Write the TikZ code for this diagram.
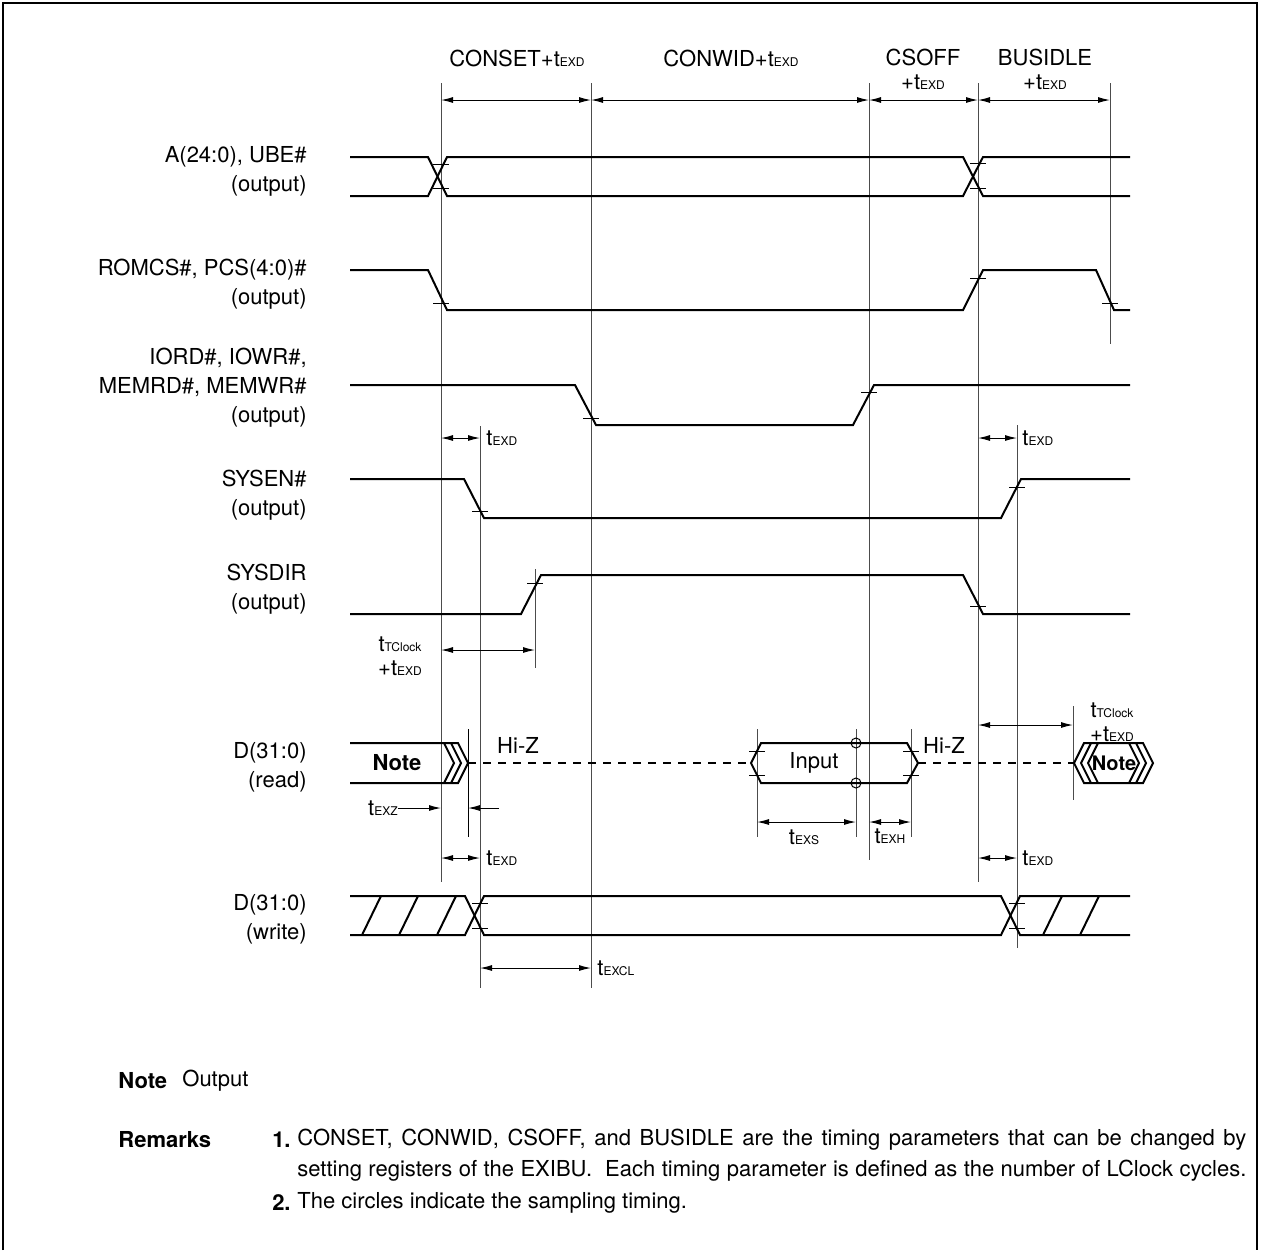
\documentclass[tikz,border=0pt]{standalone}
\usepackage{fontspec}
\setmainfont{TeX Gyre Heros}
\usetikzlibrary{arrows.meta}
\newcommand{\tx}[1]{t{\fontsize{6}{7}\selectfont #1}}

\begin{document}
\begin{tikzpicture}[x=0.5pt,y=-0.5pt,
  sig/.style={line width=1pt},
  guide/.style={line width=0.5pt,black!70},
  mtick/.style={line width=0.5pt},
  dim/.style={line width=0.5pt,{Latex[length=6pt,width=3pt]}-{Latex[length=6pt,width=3pt]}},
  half/.style={line width=0.5pt,-{Latex[length=6pt,width=3pt]}},
  txt/.style={inner sep=0pt,font=\fontsize{11}{12}\selectfont},
  lbl/.style={anchor=east,align=right,inner sep=0pt,font=\fontsize{11}{14.5}\selectfont}]
\useasboundingbox (0,0) rectangle (1264,1250);
%draw frame
\draw[line width=1pt] (3,1250) -- (3,3) -- (1257,3) -- (1257,1250);
%draw vertical guide lines
\foreach \x/\a/\b in {441/83/882, 591/83/988, 869/83/860, 978/83/882, 1110/83/344,
  480/426/988, 535/569/668, 757/729/837, 856/729/837, 911/729/837, 1073/706/800, 1017/425/948}{
\draw[guide] (\x,\a) -- (\x,\b); }
\draw[mtick] (468,729) -- (468,837);
%draw top intervals
\foreach \a/\b in {441/591, 591/869, 869/978, 978/1110}{
\draw[dim] (\a,100) -- (\b,100); }
\node[txt] (conset) at (517,58) {CONSET+\tx{EXD}};
\node[txt] (conwid) at (731,58) {CONWID+\tx{EXD}};
\node[txt,align=center] (csoff) at (923,69) {CSOFF\\+\tx{EXD}};
\node[txt,align=center] (busidle) at (1045,69) {BUSIDLE\\+\tx{EXD}};
%draw signal names
\node[lbl] (la) at (307,171) {A(24:0), UBE\#\\(output)};
\node[lbl] (lromcs) at (307,284) {ROMCS\#, PCS(4:0)\#\\(output)};
\node[lbl] (liord) at (307,388) {IORD\#, IOWR\#,\\MEMRD\#, MEMWR\#\\(output)};
\node[lbl] (lsysen) at (307,495) {SYSEN\#\\(output)};
\node[lbl] (lsysdir) at (307,589) {SYSDIR\\(output)};
\node[lbl] (lread) at (307,767) {D(31:0)\\(read)};
\node[lbl] (lwrite) at (307,919) {D(31:0)\\(write)};
%draw waveforms
\draw[sig] (350,157) -- (428,157) -- (447,196) -- (963,196) -- (983,157) -- (1130,157);
\draw[sig] (350,196) -- (428,196) -- (447,157) -- (963,157) -- (983,196) -- (1130,196);
\draw[sig] (350,270) -- (428,270) -- (447,310) -- (963,310) -- (983,270) -- (1096,270) -- (1114,310) -- (1130,310);
\draw[sig] (350,385) -- (575,385) -- (596,425) -- (853,425) -- (874,385) -- (1130,385);
\draw[sig] (350,479) -- (464,479) -- (484,518) -- (1001,518) -- (1021,479) -- (1130,479);
\draw[sig] (350,614) -- (521,614) -- (541,575) -- (963,575) -- (983,614) -- (1130,614);
%D read
\draw[sig] (350,743) -- (458,743) -- (468,763) -- (458,783) -- (350,783);
\foreach \x in {444,451}{
\draw[sig] (\x,743) -- (\x+10,763) -- (\x,783); }
\draw[sig,dash pattern=on 4pt off 3.5pt] (468,763) -- (751,763);
\draw[sig] (751,763) -- (761,743) -- (907,743) -- (918,763) -- (907,783) -- (761,783) -- cycle;
\draw[sig,dash pattern=on 4pt off 3.5pt] (918,763) -- (1074,763);
\draw[sig] (1074,763) -- (1084,743) -- (1143,743) -- (1153,763) -- (1143,783) -- (1084,783) -- cycle;
\foreach \x in {7,14}{
\draw[sig] (1084+\x,743) -- (1074+\x,763) -- (1084+\x,783);
\draw[sig] (1143-\x,743) -- (1153-\x,763) -- (1143-\x,783); }
\draw[mtick] (856,743) circle[radius=2.5pt];
\draw[mtick] (856,783) circle[radius=2.5pt];
\node[txt,font=\fontsize{11}{12}\selectfont\bfseries] (noteL) at (397,763) {Note};
\node[txt,font=\fontsize{10}{12}\selectfont\bfseries] (noteR) at (1114,763) {Note};
\node[txt] (input) at (814,763) {Input};
\node[txt] (hizL) at (518,745) {Hi-Z};
\node[txt] (hizR) at (944,745) {Hi-Z};
%D write
\draw[sig] (350,896) -- (465,896) -- (484,935) -- (1001,935) -- (1020,896) -- (1130,896);
\draw[sig] (350,935) -- (465,935) -- (484,896) -- (1001,896) -- (1020,935) -- (1130,935);
\foreach \x in {362,399,437,1043,1080}{
\draw[sig] (\x,935) -- (\x+19,896); }
%draw ticks
\foreach \x/\y in {441/164, 441/188, 978/163, 978/188, 441/303, 978/278, 1110/303,
  591/418, 869/392, 480/511, 1017/487, 535/583, 978/606, 757/751, 757/775,
  911/751, 911/775, 480/903, 480/928, 1017/903, 1017/928}{
\draw[mtick] (\x-8,\y) -- (\x+8,\y); }
%draw timing arrows
\draw[dim] (441,438) -- (480,438);
\node[txt,anchor=west] (texd1) at (486,438) {\tx{EXD}};
\draw[dim] (978,438) -- (1017,438);
\node[txt,anchor=west] (texd2) at (1022,438) {\tx{EXD}};
\draw[dim] (441,650) -- (535,650);
\node[txt,align=center] (ttclk1) at (400,656) {\tx{TClock}\\+\tx{EXD}};
\node[txt,anchor=east] (texz) at (398,808) {\tx{EXZ}};
\draw[half] (texz.east) -- (441,808);
\draw[half] (499,808) -- (468,808);
\draw[dim] (441,858) -- (480,858);
\node[txt,anchor=west] (texd3) at (486,858) {\tx{EXD}};
\draw[dim] (978,858) -- (1017,858);
\node[txt,anchor=west] (texd4) at (1022,858) {\tx{EXD}};
\draw[dim] (757,822) -- (856,822);
\node[txt] (texs) at (804,837) {\tx{EXS}};
\draw[dim] (869,822) -- (911,822);
\node[txt] (texh) at (890,836) {\tx{EXH}};
\draw[dim] (978,725) -- (1073,725);
\node[txt,align=center] (ttclk2) at (1112,722) {\tx{TClock}\\+\tx{EXD}};
\draw[dim] (480,968) -- (591,968);
\node[txt,anchor=west] (texcl) at (597,968) {\tx{EXCL}};
%draw notes
\node[txt,anchor=west,font=\fontsize{11}{12}\selectfont\bfseries] (nnote) at (118,1081) {Note};
\node[txt,anchor=west] (nout) at (182,1081) {Output};
\node[txt,anchor=west,font=\fontsize{11}{12}\selectfont\bfseries] (rem1) at (118,1140) {Remarks};
\node[txt,anchor=east,font=\fontsize{11}{12}\selectfont\bfseries] (rem1n) at (291,1140) {1.};
\node[txt,anchor=north west,text width=474.5pt,align=justify,font=\fontsize{11}{15.5}\selectfont] (remtxt) at (297,1129)
  {\parfillskip=0pt CONSET, CONWID, CSOFF, and BUSIDLE are the timing parameters that can be changed by\linebreak
   setting registers of the EXIBU.\ \ Each timing parameter is defined as the number of LClock cycles.\par};
\node[txt,anchor=east,font=\fontsize{11}{12}\selectfont\bfseries] (rem2) at (291,1203) {2.};
\node[txt,anchor=west] (rem2txt) at (297,1203) {The circles indicate the sampling timing.};
\end{tikzpicture}
\end{document}
